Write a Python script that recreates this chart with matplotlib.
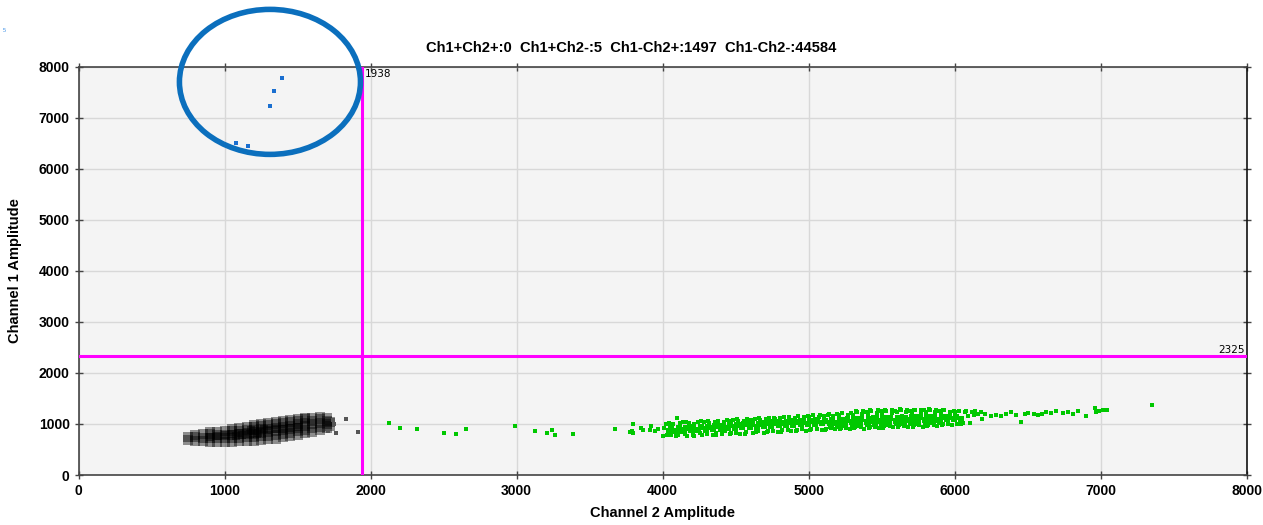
import matplotlib.pyplot as plt
from matplotlib.patches import Ellipse

plt.rcParams['font.family'] = ['Liberation Sans', 'DejaVu Sans']

title = "Ch1+Ch2+:0  Ch1+Ch2-:5  Ch1-Ch2+:1497  Ch1-Ch2-:44584"
thr_ch2 = 1938
thr_ch1 = 2325
x_ticks = [0, 1000, 2000, 3000, 4000, 5000, 6000, 7000, 8000]
y_ticks = [0, 1000, 2000, 3000, 4000, 5000, 6000, 7000, 8000]

# Ch1+Ch2- droplets (blue)
blue_x = [1075, 1160, 1308, 1338, 1395]
blue_y = [6497, 6444, 7221, 7521, 7783]

# double negative cloud, read column by column
neg_x = [750, 750,
         800, 800, 800,
         850, 850, 850,
         900, 900, 900, 900,
         950, 950, 950, 950,
         1000, 1000, 1000, 1000,
         1050, 1050, 1050, 1050, 1050,
         1100, 1100, 1100, 1100, 1100,
         1150, 1150, 1150, 1150, 1150,
         1200, 1200, 1200, 1200, 1200, 1200,
         1250, 1250, 1250, 1250, 1250, 1250,
         1300, 1300, 1300, 1300, 1300, 1300,
         1350, 1350, 1350, 1350, 1350, 1350,
         1400, 1400, 1400, 1400, 1400, 1400,
         1450, 1450, 1450, 1450, 1450, 1450,
         1500, 1500, 1500, 1500, 1500, 1500,
         1550, 1550, 1550, 1550, 1550, 1550,
         1600, 1600, 1600, 1600, 1600,
         1650, 1650, 1650, 1650, 1650,
         1700, 1700, 1700, 1700,
         1720, 1720]
neg_y = [690, 750,
         675, 740, 785,
         665, 730, 795,
         655, 725, 795, 835,
         650, 720, 790, 850,
         650, 720, 790, 860,
         650, 720, 790, 860, 895,
         660, 730, 800, 870, 920,
         665, 735, 805, 875, 945,
         670, 740, 810, 880, 950, 980,
         685, 755, 825, 895, 965, 1000,
         700, 770, 840, 910, 980, 1020,
         715, 785, 855, 925, 995, 1040,
         735, 805, 875, 945, 1015, 1060,
         755, 825, 895, 965, 1035, 1080,
         785, 855, 925, 995, 1065, 1100,
         815, 885, 955, 1025, 1095, 1115,
         850, 920, 990, 1060, 1125,
         880, 950, 1020, 1090, 1145,
         920, 990, 1060, 1110,
         960, 1040]

# denser middle of the cloud
neg_core_x = [1000, 1050, 1100, 1150, 1200, 1250, 1300, 1120, 1180, 1230,
              1080, 1270, 900, 950, 1350, 1400, 1450, 1500, 1170, 1220]
neg_core_y = [780, 800, 820, 840, 855, 870, 885, 790, 880, 830,
              760, 900, 740, 760, 900, 910, 930, 950, 810, 800]

# stray negatives near the threshold
neg_out_x = [1743, 1832, 1750, 1708, 1763, 1914]
neg_out_y = [1076, 1096, 998, 861, 822, 841]

# Ch1-Ch2+ droplets (green): sparse left part
green_sparse_x = [2127, 2198, 2317, 2502, 2587, 2651, 2989, 3122, 3205, 3242,
                  3261, 3384, 3675, 3776, 3790, 3799, 3799, 3849, 3863, 3915,
                  3920, 3947, 3966, 4028, 4050, 4098]
green_sparse_y = [1023, 913, 900, 815, 796, 900, 952, 867, 815, 886,
                  782, 796, 900, 835, 860, 1003, 815, 913, 880, 886,
                  952, 861, 900, 782, 965, 1110]

# dense band: solid middle
green_core_x = [4045, 4060, 4095, 4110, 4148, 4162, 4195, 4210, 4245, 4262,
                4295, 4312, 4345, 4360, 4396, 4410, 4445, 4460, 4494, 4510,
                4545, 4560, 4596, 4612, 4645, 4660, 4694, 4710, 4745, 4760,
                4796, 4812, 4845, 4860, 4894, 4910, 4945, 4960, 4996, 5012,
                5045, 5060, 5094, 5110,
                5145, 5160, 5152, 5196, 5212, 5204, 5245, 5260, 5252,
                5294, 5310, 5302, 5345, 5360, 5352, 5396, 5412, 5404,
                5445, 5460, 5452, 5494, 5510, 5502, 5545, 5560, 5552,
                5596, 5612, 5604, 5645, 5660, 5652, 5694, 5710, 5702,
                5745, 5760, 5752, 5796, 5812, 5804, 5845, 5860, 5852,
                5894, 5910, 5902, 5945, 5960, 5996, 6012, 6045]
green_core_y = [860, 910, 870, 925, 880, 930, 885, 935, 890, 945,
                895, 950, 905, 960, 910, 965, 920, 975, 925, 985,
                935, 990, 940, 1000, 950, 1005, 955, 1010, 965, 1020,
                970, 1025, 980, 1035, 985, 1040, 995, 1045, 1000, 1050,
                1005, 1060, 1010, 1065,
                1015, 1070, 960, 1020, 1075, 965, 1025, 1085, 970,
                1035, 1090, 980, 1040, 1100, 985, 1045, 1105, 990,
                1050, 1110, 995, 1055, 1115, 1000, 1060, 1120, 1005,
                1065, 1120, 1010, 1070, 1125, 1015, 1070, 1130, 1015,
                1075, 1130, 1020, 1080, 1135, 1025, 1080, 1135, 1030,
                1085, 1140, 1030, 1090, 1140, 1095, 1145, 1100]

# dense band: speckled edges
green_x = [4005, 4020, 4035, 4045, 4012, 4055, 4068, 4080, 4092, 4060,
           4105, 4118, 4130, 4142, 4110, 4155, 4165, 4178, 4190, 4160,
           4205, 4215, 4228, 4240, 4212, 4255, 4268, 4280, 4292, 4262,
           4305, 4318, 4330, 4342, 4312, 4355, 4368, 4380, 4392, 4362,
           4405, 4418, 4430, 4442, 4412, 4455, 4468, 4480, 4492, 4462,
           4505, 4518, 4530, 4542, 4512, 4555, 4568, 4580, 4592, 4562,
           4605, 4618, 4630, 4642, 4612, 4655, 4668, 4680, 4692, 4662,
           4705, 4718, 4730, 4742, 4712, 4755, 4768, 4780, 4792, 4762,
           4805, 4818, 4830, 4842, 4812, 4855, 4868, 4880, 4892, 4862,
           4905, 4918, 4930, 4942, 4912, 4955, 4968, 4980, 4992, 4962,
           5005, 5018, 5030, 5042, 5012, 5055, 5068, 5080, 5092, 5062,
           5105, 5118, 5130, 5142, 5112, 5155, 5168, 5180, 5192, 5162,
           5205, 5218, 5230, 5242, 5212, 5255, 5268, 5280, 5292, 5262,
           5305, 5318, 5330, 5342, 5312, 5322, 5355, 5368, 5380, 5392, 5362, 5372,
           5405, 5418, 5430, 5442, 5412, 5422, 5455, 5468, 5480, 5492, 5462, 5472,
           5505, 5518, 5530, 5542, 5512, 5522, 5555, 5568, 5580, 5592, 5562, 5572,
           5605, 5618, 5630, 5642, 5612, 5622, 5655, 5668, 5680, 5692, 5662, 5672,
           5705, 5718, 5730, 5742, 5712, 5722, 5755, 5768, 5780, 5792, 5762, 5772,
           5805, 5818, 5830, 5842, 5812, 5822, 5855, 5868, 5880, 5892, 5862, 5872,
           5905, 5918, 5930, 5942, 5912, 5922, 5955, 5968, 5980, 5992, 5962,
           6005, 6018, 6030, 6042, 6012, 6055, 6068, 6080, 6092,
           6105, 6118, 6130, 6142, 6160, 6180, 6190]
green_y = [760, 990, 830, 1010, 920, 790, 1000, 850, 760, 960,
           780, 1010, 850, 1030, 930, 800, 770, 1010, 960, 1040,
           790, 1000, 860, 1040, 770, 820, 780, 1030, 870, 1050,
           800, 1020, 950, 780, 1060, 1030, 820, 1060, 980, 790,
           810, 1040, 860, 1070, 980, 1050, 820, 1080, 960, 800,
           830, 1060, 800, 1000, 1090, 1060, 840, 1090, 1010, 810,
           1070, 830, 1100, 850, 1020, 860, 1080, 1040, 830, 1110,
           1090, 860, 1110, 1050, 840, 870, 1100, 1060, 850, 1120,
           1110, 880, 1130, 1060, 850, 880, 1110, 860, 1070, 1140,
           1120, 890, 1150, 1080, 870, 900, 1130, 870, 1160, 1050,
           1130, 900, 1170, 1090, 880, 910, 1140, 1180, 890, 1060,
           1150, 910, 1180, 1200, 890, 920, 1160, 900, 1200, 1090,
           1170, 920, 1210, 1100, 900, 930, 1180, 910, 1220, 1110,
           1180, 940, 1230, 1120, 920, 1250, 940, 1190, 910, 1230, 1110, 1260,
           1200, 950, 1250, 1130, 920, 1270, 950, 1210, 930, 1250, 1120, 1270,
           1220, 960, 1260, 1140, 930, 1280, 960, 1220, 940, 1260, 1130, 1280,
           1230, 970, 1270, 1150, 940, 1290, 960, 1230, 950, 1260, 1140, 1280,
           1230, 970, 1270, 1150, 950, 1280, 970, 1230, 950, 1270, 1140, 1280,
           1240, 980, 1270, 1150, 960, 1290, 980, 1230, 960, 1260, 1150, 1280,
           1240, 990, 1270, 1160, 970, 1280, 990, 1240, 970, 1260, 1160,
           1230, 1000, 1260, 990, 1150, 1010, 1230, 1250, 1160,
           1020, 1230, 1170, 1250, 1190, 1240, 1100]

# sparse right tail
green_tail_x = [6205, 6250, 6280, 6319, 6350, 6388, 6420, 6452, 6480, 6502,
                6540, 6571, 6600, 6628, 6660, 6697, 6740, 6776, 6810, 6845,
                6902, 6959, 6966, 6990, 7017, 7040, 7353]
green_tail_y = [1193, 1150, 1180, 1160, 1200, 1226, 1170, 1030, 1190, 1206,
                1190, 1173, 1200, 1226, 1210, 1246, 1220, 1226, 1200, 1246,
                1160, 1310, 1226, 1250, 1278, 1270, 1376]

fig = plt.figure(figsize=(12.63, 5.25), dpi=100)
ax = fig.add_axes([0.0623, 0.0952, 0.9248, 0.778])
ax.set_facecolor('#f4f4f4')

green = '#00c800'
ax.scatter(neg_x, neg_y, s=48, marker='s', c='black', alpha=0.42, linewidths=0, zorder=3)
ax.scatter(neg_core_x, neg_core_y, s=40, marker='s', c='black', alpha=0.5, linewidths=0, zorder=3)
ax.scatter(neg_out_x, neg_out_y, s=6, marker='s', c='#555555', linewidths=0, zorder=3)
ax.scatter(green_sparse_x, green_sparse_y, s=5, marker='s', c=green, linewidths=0, zorder=3)
ax.scatter(green_core_x, green_core_y, s=20, marker='s', c=green, linewidths=0, zorder=3)
ax.scatter(green_x, green_y, s=5, marker='s', c=green, linewidths=0, zorder=3)
ax.scatter(green_tail_x, green_tail_y, s=5, marker='s', c=green, linewidths=0, zorder=3)
ax.scatter(blue_x, blue_y, s=6, marker='s', c='#1a6fd0', linewidths=0, zorder=3)

# thresholds
ax.axvline(thr_ch2, color='#ff00ff', lw=2.2, zorder=4)
ax.axhline(thr_ch1, color='#ff00ff', lw=2.2, zorder=4)
ax.text(thr_ch2 + 20, 7950, str(thr_ch2), fontsize=7.5, va='top', ha='left',
        family='DejaVu Sans', zorder=5)
ax.text(7990, thr_ch1 + 30, str(thr_ch1), fontsize=7.5, va='bottom', ha='right',
        family='DejaVu Sans', zorder=5)

ax.set_xlim(0, 8000)
ax.set_ylim(0, 8000)
ax.set_xticks(x_ticks)
ax.set_yticks(y_ticks)
ax.grid(True, color='#d8d8d8', lw=1)
ax.set_axisbelow(True)
ax.tick_params(direction='inout', length=6, width=1, color='#444444',
               labelsize=10, top=True, right=True)
for lbl in ax.get_xticklabels() + ax.get_yticklabels():
    lbl.set_fontweight('bold')
for sp in ax.spines.values():
    sp.set_color('#444444')
    sp.set_linewidth(1.2)
ax.spines['right'].set_color('#111111')

ax.set_xlabel('Channel 2 Amplitude', fontsize=10.5, fontweight='bold', labelpad=6)
ax.set_ylabel('Channel 1 Amplitude', fontsize=10.5, fontweight='bold', labelpad=12)
fig.text(631 / 1263, 1 - 48 / 525, title, fontsize=10.6, fontweight='bold',
         ha='center', va='center')
fig.text(3 / 1263, 1 - 32 / 525, '5', fontsize=4, color='#3a8ee6')

# hand-drawn highlight ring around the Ch1+ droplets
ring = Ellipse((1310, 7700), 1240, 2840, fill=False, edgecolor='#0b6fbd',
               lw=4, clip_on=False, zorder=6)
ax.add_patch(ring)

fig.savefig('out.png', dpi=100)
